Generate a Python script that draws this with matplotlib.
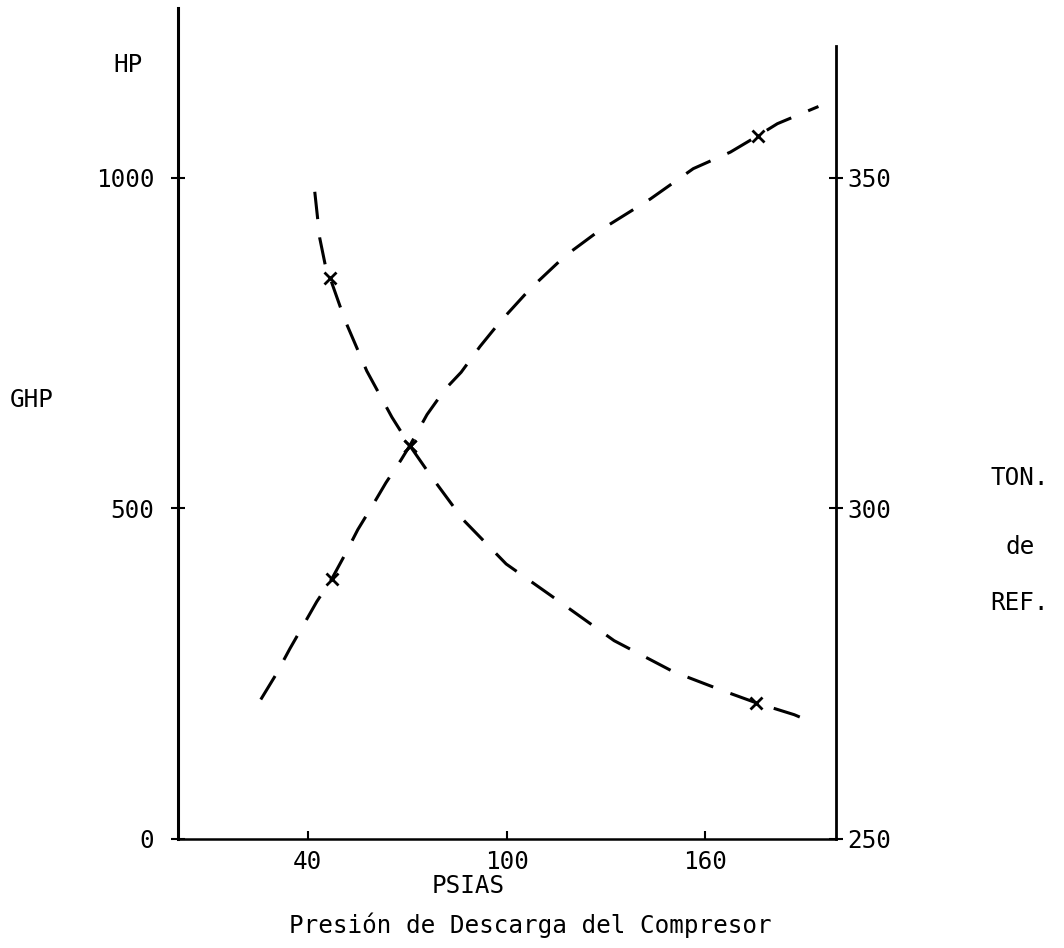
import matplotlib
matplotlib.use("Agg")
import matplotlib.pyplot as plt
import numpy as np

plt.rcParams['font.family'] = ['DejaVu Sans Mono']
plt.rcParams['font.size'] = 17.5

# GHP curve (left axis, HP)
ghp_x = [42.1, 43.6, 45.4, 46.7, 51.2, 57.8, 65.4, 70.8, 76.9, 86.9, 99.9,
         113.2, 132.5, 150.4, 165.5, 175.4, 186.9, 192.1]
ghp_y = [979, 909, 865, 849, 785, 708, 638, 595, 551, 483, 416,
         369, 300, 253, 224, 206, 188, 177]
ghp_mx = [46.7, 70.8, 175.4]
ghp_my = [849, 595, 206]

# refrigeration curve (right axis, TON. de REF.)
ton_x = [25.8, 30.3, 34.6, 39.4, 42.7, 47.3, 51.2, 55.1, 59.6, 63.6, 68.1,
         70.8, 76.0, 81.4, 86.3, 92.0, 98.0, 107.1, 117.7, 127.4, 143.4,
         156.4, 167.6, 176.0, 181.8, 194.2]
ton_y = [271.1, 274.8, 278.8, 283.0, 285.9, 289.4, 293.0, 296.8, 300.5, 303.9,
         307.3, 309.5, 314.2, 318.0, 320.6, 324.5, 328.2, 333.2, 338.2, 341.8,
         346.8, 351.4, 353.9, 356.4, 358.2, 360.8]
ton_mx = [47.3, 70.8, 176.0]
ton_my = [289.4, 309.5, 356.4]

W, H = 1064, 948
fig = plt.figure(figsize=(W / 100, H / 100), dpi=100)
ax = fig.add_axes([178 / W, 1 - 839 / H, (836 - 178) / W, (839 - 8) / H])
ax2 = ax.twinx()

ax.set_xlim(0.8, 199.5)
ax.set_ylim(0, 1257)
ax2.set_ylim(250, 375.7)

ax.plot(ghp_x, ghp_y, color='black', lw=2.2, dashes=(9, 6))
ax.plot(ghp_mx, ghp_my, 'x', color='black', ms=8, mew=2)
ax2.plot(ton_x, ton_y, color='black', lw=2.2, dashes=(9, 6))
ax2.plot(ton_mx, ton_my, 'x', color='black', ms=8, mew=2)

for a in (ax, ax2):
    a.spines['top'].set_visible(False)
ax.spines['right'].set_visible(False)
ax2.spines['left'].set_visible(False)
ax2.spines['bottom'].set_visible(False)
ax.spines['left'].set_linewidth(2.2)
ax.spines['bottom'].set_linewidth(1.8)
ax2.spines['right'].set_linewidth(2.0)
ax2.spines['right'].set_bounds(250, 370)

ax.set_xticks([40, 100, 160])
ax.set_yticks([0, 500, 1000])
ax2.set_yticks([250, 300, 350])
ax.tick_params(axis='x', direction='in', length=6, width=1.5, pad=8)
ax.tick_params(axis='y', direction='inout', length=10, width=1.5, pad=12)
ax2.tick_params(axis='y', direction='inout', length=10, width=1.5, pad=3)


def ftext(px, py, s, **kw):
    fig.text(px / W, 1 - py / H, s, ha='center', va='center', **kw)


ftext(128, 65, 'HP')
ftext(32, 400, 'GHP')
ftext(1020, 478, 'TON.')
ftext(1020, 547, 'de')
ftext(1020, 603, 'REF.')
ftext(468, 886, 'PSIAS')
ftext(530, 925, 'Presión de Descarga del Compresor')

fig.savefig('out.png', dpi=100)
